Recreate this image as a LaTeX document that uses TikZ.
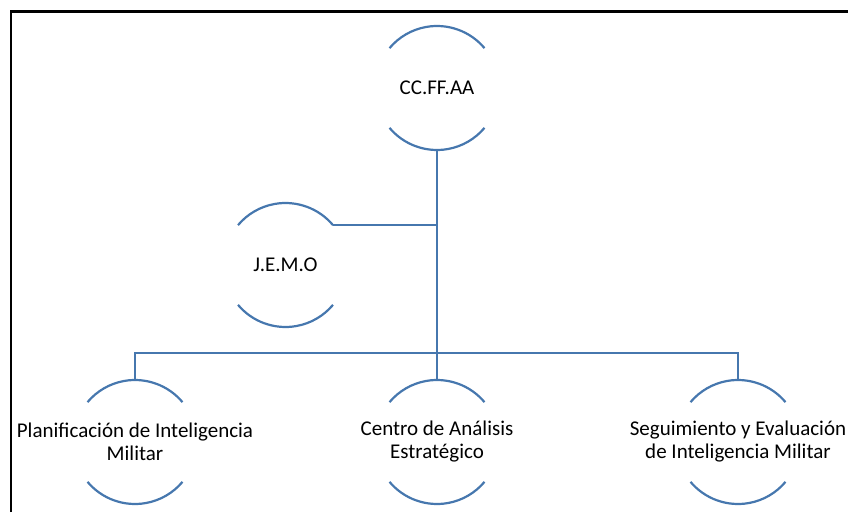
\documentclass[tikz,border=0pt]{standalone}
\usepackage{fontspec}
\setmainfont{Carlito}
\usepackage{tikz}
\usetikzlibrary{positioning}

\definecolor{unitblue}{HTML}{4677AE}

\tikzset{
  unit/.style={circle, minimum size=124pt, inner sep=0pt, outer sep=0pt},
  unittext/.style={align=center, inner sep=0pt, font=\fontsize{21}{23}\selectfont},
  link/.style={draw=unitblue, line width=2.2pt},
  frameline/.style={draw=black, line width=2.6pt},
}

\begin{document}
\begin{tikzpicture}[x=1pt,y=1pt]
%%Location
\useasboundingbox (0,0) rectangle (848,512);
\draw[frameline] (11,0) -- (11,500.5) -- (848,500.5);

%%Units
\node[unit, label={[unittext]center:CC.FF.AA}] (cc) at (437,424) {};
\node[unit, label={[unittext]center:J.E.M.O}] (jemo) at (285.5,247) {};
\node[unit, label={[unittext]center:Planificación de Inteligencia\\Militar}] (plan) at (135,70) {};
\node[unit, label={[unittext]center:Centro de Análisis\\Estratégico}] (centro) at (437,70) {};
\node[unit, label={[unittext]center:Seguimiento y Evaluación\\de Inteligencia Militar}] (segui) at (738,70) {};

%%Arcs
\foreach \u in {cc,jemo,plan,centro,segui} {
  \draw[link] (\u.40) arc (40:140:62pt);
  \draw[link] (\u.220) arc (220:320:62pt);
}

%%Links
\coordinate (bus) at (437,159);
\draw[link] (cc.south) -- (centro.north);
\draw[link] (jemo.40) -- (jemo.40 -| cc.south);
\draw[link] (plan.north) |- (bus) -| (segui.north);

\end{tikzpicture}
\end{document}
